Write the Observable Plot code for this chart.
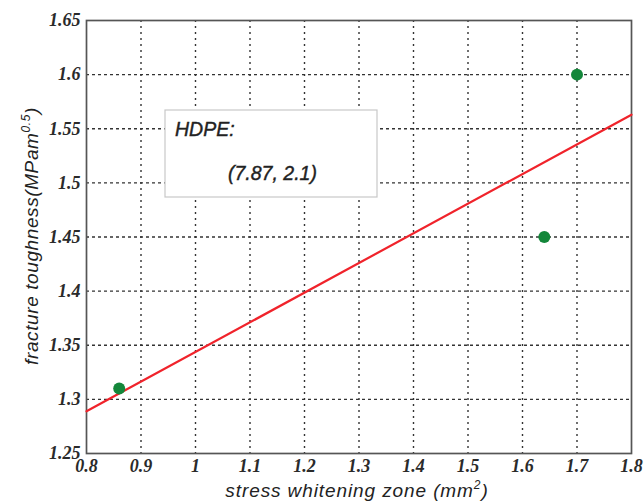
<!DOCTYPE html>
<html><head><meta charset="utf-8">
<script src="https://cdn.jsdelivr.net/npm/d3@7"></script>
<script src="https://cdn.jsdelivr.net/npm/@observablehq/plot@0.6"></script>
<style>body{margin:0;background:#fff}</style>
</head><body><div id="chart"></div>
<script>
const xTicks = [0.8, 0.9, 1.0, 1.1, 1.2, 1.3, 1.4, 1.5, 1.6, 1.7, 1.8];
const yTicks = [1.25, 1.3, 1.35, 1.4, 1.45, 1.5, 1.55, 1.6, 1.65];
const pointX = [0.86, 1.64, 1.70];
const pointY = [1.31, 1.45, 1.60];
const fitX = [0.8, 1.8];
const fitY = [1.289, 1.563];
const boxLines = ["HDPE:", "(7.87, 2.1)"];
const xTitle = ["stress whitening zone (mm", "2", ")"];
const yTitle = ["fracture toughness(MPam", "0.5", ")"];

const pts = pointX.map((x, i) => ({x, y: pointY[i]}));
const fit = fitX.map((x, i) => ({x, y: fitY[i]}));
const fmt = d => String(+d.toFixed(2));
const tickFont = {fontFamily: "'Liberation Serif', 'Times New Roman', serif", fontWeight: "bold", fontStyle: "italic", fontSize: 18, fill: "#2a2a2a"};

const chart = Plot.plot({
  width: 644, height: 502,
  marginLeft: 86, marginRight: 13, marginTop: 20, marginBottom: 49,
  x: {domain: [0.8, 1.8]},
  y: {domain: [1.25, 1.65]},
  style: {background: "white"},
  marks: [
    Plot.gridX(xTicks.slice(1, -1), {stroke: "#333", strokeOpacity: 1, strokeDasharray: "2,4", strokeWidth: 1.4}),
    Plot.gridY(yTicks.slice(1, -1), {stroke: "#333", strokeOpacity: 1, strokeDasharray: "3,3", strokeWidth: 1.3}),
    Plot.axisX(xTicks, {tickSize: 0, tickPadding: 6, tickFormat: fmt, label: null, ...tickFont}),
    Plot.axisY(yTicks, {tickSize: 0, tickPadding: 6, tickFormat: fmt, label: null, ...tickFont}),
    Plot.frame({stroke: "#555", strokeWidth: 1.7}),
    Plot.line(fit, {x: "x", y: "y", stroke: "#f0232b", strokeWidth: 2.2}),
    Plot.dot(pts, {x: "x", y: "y", r: 6, fill: "#13873a", stroke: "none"})
  ]
});
document.getElementById("chart").append(chart);

const svg = d3.select(chart);
const sans = "'Liberation Sans', Arial, sans-serif";

// annotation box
const g = svg.append("g").attr("text-anchor", "start");
g.append("rect").attr("x", 165).attr("y", 110).attr("width", 212).attr("height", 87)
  .attr("fill", "white").attr("stroke", "#c8c8c8").attr("stroke-width", 1.2);
g.append("text").attr("x", 175).attr("y", 136).text(boxLines[0])
  .attr("text-anchor", "start").attr("stroke", "#222").attr("stroke-width", 0.4)
  .style("font-family", sans).style("font-style", "italic")
  .style("font-size", "19.5px").attr("fill", "#222");
g.append("text").attr("x", 228).attr("y", 180).text(boxLines[1])
  .attr("text-anchor", "start").attr("stroke", "#222").attr("stroke-width", 0.4)
  .style("font-family", sans).style("font-style", "italic")
  .style("font-size", "19.5px").attr("fill", "#222");

function title(parent, parts, attrs, spacing) {
  const t = parent.append("text").style("font-family", sans)
    .style("font-style", "italic").style("font-size", "19px").attr("fill", "#222")
    .attr("text-anchor", "middle").attr("letter-spacing", spacing);
  for (const [k, v] of Object.entries(attrs)) t.attr(k, v);
  t.append("tspan").text(parts[0]);
  t.append("tspan").text(parts[1]).attr("dy", -8).style("font-size", "12px");
  t.append("tspan").text(parts[2]).attr("dy", 8);
  return t;
}
title(svg, xTitle, {x: 357, y: 497}, 0.9);
title(svg, yTitle, {transform: "translate(38,236) rotate(-90)"}, 0.6);
</script></body></html>
